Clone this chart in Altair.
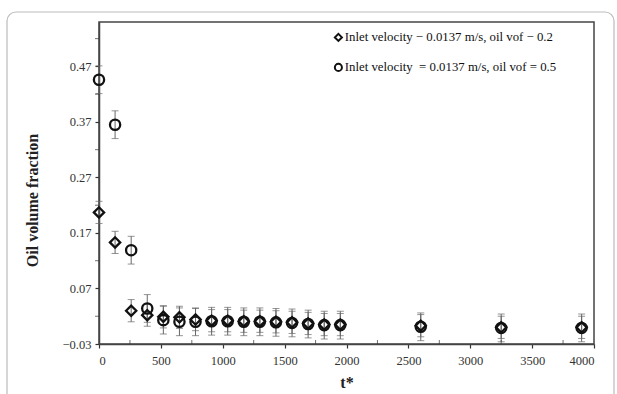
import altair as alt
import pandas as pd

# Dimensionless time t* and measured oil volume fraction for the two inlet cases
t_star = [0, 130, 260, 390, 520, 650, 780, 910, 1040, 1170, 1300, 1430,
          1560, 1690, 1820, 1950, 2600, 3250, 3900]
vof_02 = [0.207, 0.153, 0.030, 0.022, 0.019, 0.018, 0.014, 0.012, 0.012, 0.011,
          0.011, 0.010, 0.009, 0.007, 0.005, 0.005, 0.003, 0.000, 0.000]
vof_05 = [0.446, 0.365, 0.139, 0.034, 0.013, 0.010, 0.010, 0.011, 0.011, 0.010,
          0.010, 0.009, 0.008, 0.006, 0.004, 0.004, 0.001, -0.001, -0.001]
err_02 = 0.02
err_05 = 0.025

series_names = ["Inlet velocity \u2212 0.0137 m/s, oil vof \u2212 0.2",
                "Inlet velocity \u00a0= 0.0137 m/s, oil vof = 0.5"]

y_ticks = [-0.03, 0.07, 0.17, 0.27, 0.37, 0.47]
y_minor = [0.02, 0.12, 0.22, 0.32, 0.42, 0.52]
x_ticks = [0, 500, 1000, 1500, 2000, 2500, 3000, 3500, 4000]
x_minor = [250, 750, 1250, 1750, 2250, 2750, 3250, 3750]

rows = []
for t, v in zip(t_star, vof_02):
    rows.append({"t": t, "vof": v, "lo": v - err_02, "hi": v + err_02, "case": series_names[0]})
for t, v in zip(t_star, vof_05):
    rows.append({"t": t, "vof": v, "lo": v - err_05, "hi": v + err_05, "case": series_names[1]})
df = pd.DataFrame(rows)

FONT = "Liberation Serif"
W, H = 495, 322

x_scale = alt.Scale(domain=[0, 4000], nice=False, zero=False)
y_scale = alt.Scale(domain=[-0.03, 0.55], nice=False, zero=False)

x_enc = alt.X("t:Q", scale=x_scale, title="t*",
              axis=alt.Axis(values=x_ticks, format="d", grid=False))
y_enc = alt.Y("vof:Q", scale=y_scale, title="Oil volume fraction",
              axis=alt.Axis(values=y_ticks, format=".2f", grid=False, titleY=178))

base = alt.Chart(df)

err_rules = base.mark_rule(color="#666", strokeWidth=1).encode(
    x=x_enc, y=alt.Y("lo:Q", scale=y_scale), y2="hi:Q")
err_top = base.mark_tick(color="#666", orient="horizontal", size=7, thickness=1).encode(
    x="t:Q", y=alt.Y("hi:Q", scale=y_scale))
err_bot = base.mark_tick(color="#666", orient="horizontal", size=7, thickness=1).encode(
    x="t:Q", y=alt.Y("lo:Q", scale=y_scale))

points = base.mark_point(filled=False, strokeWidth=2.3, color="#111", opacity=1,
                         size=105).encode(
    x=x_enc, y=y_enc,
    shape=alt.Shape("case:N",
                    scale=alt.Scale(domain=series_names, range=["diamond", "circle"]),
                    legend=alt.Legend(title=None, orient="none", legendX=233, legendY=9,
                                      labelFont=FONT, labelFontSize=12.8, labelColor="#111",
                                      symbolStrokeColor="#111", symbolStrokeWidth=2,
                                      symbolFillColor="white", symbolSize=50,
                                      symbolType="circle",
                                      rowPadding=14, labelOffset=0, labelLimit=400,
                                      padding=0)),
)

xm = pd.DataFrame({"t": x_minor, "vof": [-0.03] * len(x_minor)})
ym = pd.DataFrame({"t": [0] * len(y_minor), "vof": y_minor})
x_minor_ticks = alt.Chart(xm).mark_tick(color="#333", orient="vertical", size=4,
                                        thickness=1, yOffset=-2).encode(
    x=alt.X("t:Q", scale=x_scale), y=alt.Y("vof:Q", scale=y_scale))
y_minor_ticks = alt.Chart(ym).mark_tick(color="#333", orient="horizontal", size=4,
                                        thickness=1, xOffset=-2).encode(
    x=alt.X("t:Q", scale=x_scale), y=alt.Y("vof:Q", scale=y_scale))

# Rounded outer card around the figure
frame = alt.Chart(pd.DataFrame({"k": [0]})).mark_rect(
    fill=None, stroke="#bbb", strokeWidth=1.2, cornerRadius=9, clip=False).encode(
    x=alt.value(-92), x2=alt.value(515), y=alt.value(-10), y2=alt.value(420))

chart = alt.layer(frame, err_rules, err_top, err_bot, x_minor_ticks, y_minor_ticks, points).properties(
    width=W, height=H,
    autosize=alt.AutoSizeParams(type="none"),
    padding={"left": 99, "top": 22, "right": 23, "bottom": 50},
    background="white",
).configure_view(
    stroke="#444", strokeWidth=1.5
).configure_axis(
    labelFont=FONT, labelFontSize=12.5, labelColor="#333",
    titleFont=FONT, titleFontSize=16, titleFontWeight="bold", titleColor="#222",
    domainColor="#444", domainWidth=1.5, tickColor="#333", tickSize=4, tickWidth=1.2,
    labelPadding=4,
).configure_axisY(
    titlePadding=22
).configure_axisX(
    titlePadding=8, labelPadding=6
).configure_legend(
    labelFont=FONT
)

chart.save("out.html", embed_options={"renderer": "svg", "actions": False})
